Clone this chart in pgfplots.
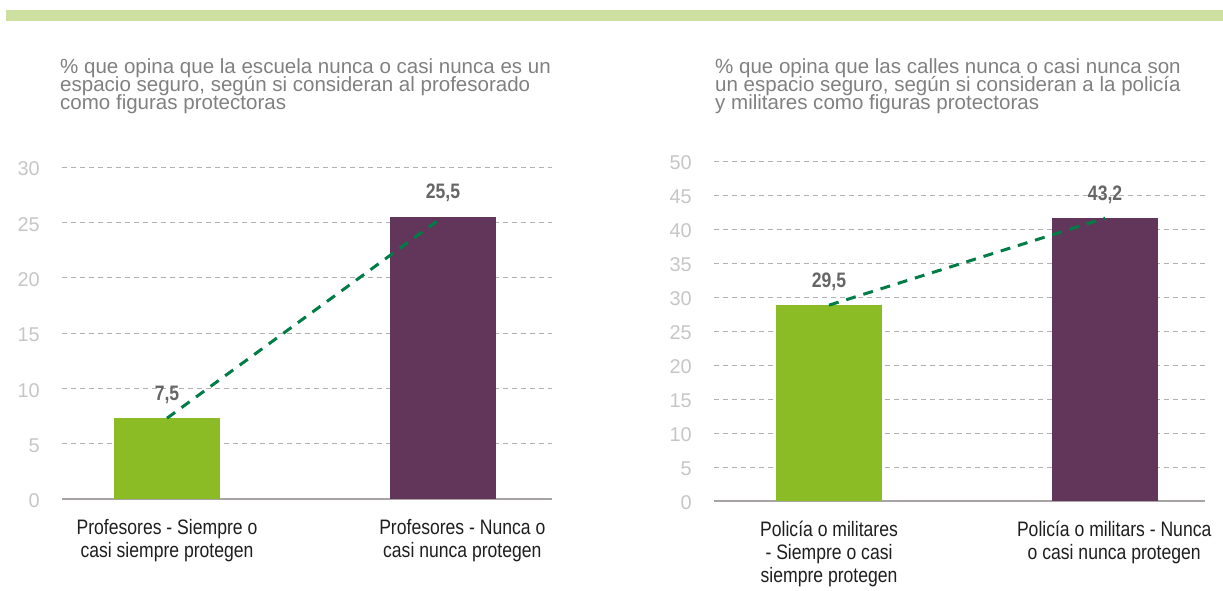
\documentclass[border=0pt]{standalone}
\usepackage{fontspec}
\setmainfont{Liberation Sans}
\newfontfamily\narrowfont[FakeStretch=0.84]{Liberation Sans}
\newfontfamily\narrowbold[FakeStretch=0.84]{Liberation Sans Bold}
\usepackage{pgfplots}
\pgfplotsset{compat=1.18}
\newcommand\titlefont{\fontsize{20.6}{18.3}\selectfont\lineskiplimit=-20pt\relax}
\definecolor{barGreen}{HTML}{8BBC26}
\definecolor{barPurple}{HTML}{62355A}
\definecolor{lineGreen}{HTML}{007C46}
\definecolor{topBand}{HTML}{CEE0A0}
\definecolor{tickGray}{HTML}{C6C6C6}
\definecolor{gridGray}{HTML}{B4B0B0}
\definecolor{axisGray}{HTML}{A8A4A4}
\definecolor{titleGray}{HTML}{808080}
\definecolor{labelGray}{HTML}{666666}
\definecolor{catBlack}{HTML}{1E1E1E}
\pgfplotsset{
  mychart/.style={
    scale only axis,
    anchor=south west,
    ymin=0,
    separate axis lines,
    axis x line*=bottom,
    axis y line*=left,
    y axis line style={draw=none},
    x axis line style={-, axisGray, line width=1.5bp},
    major tick length=0pt,
    ymajorgrids,
    grid style={gridGray, dash pattern=on 5bp off 4bp, line width=1bp},
    /pgf/number format/assume math mode=true,
    yticklabel style={font=\fontsize{20}{20}\selectfont, text=tickGray, anchor=east, inner sep=0pt, xshift=-22bp, yshift=-2bp},
    xticklabel style={font=\narrowfont\fontsize{21}{23}\selectfont, text=catBlack, align=center, anchor=north, inner sep=0pt, yshift=-20bp},
    clip=false,
  },
  mybar/.style={ybar, bar width=106bp, bar shift=0pt, draw=none, fill=#1,
    every node near coord/.append style={font=\narrowbold\fontsize{21}{21}\selectfont, text=labelGray, anchor=base, inner sep=0pt, yshift=18bp}},
  myline/.style={sharp plot, no markers, lineGreen, line width=3bp, dash pattern=on 10bp off 8bp},
}
\begin{document}
\begin{tikzpicture}
\path[use as bounding box] (0bp,0bp) rectangle (1223bp,-591bp);
\fill[topBand] (6bp,-10bp) rectangle (1223bp,-21bp);
\node[anchor=north west, align=left, inner sep=0pt, text=titleGray, font=\titlefont] at (60bp,-58bp)
  {\% que opina que la escuela nunca o casi nunca es un\\espacio seguro, según si consideran al profesorado\\como figuras protectoras};
\node[anchor=north west, align=left, inner sep=0pt, text=titleGray, font=\titlefont] at (715bp,-58bp)
  {\% que opina que las calles nunca o casi nunca son\\un espacio seguro, según si consideran a la policía\\y militares como figuras protectoras};

\begin{axis}[mychart, at={(62bp,-499bp)}, width=490bp, height=332bp,
  xmin=-0.3804, xmax=1.395, ymax=30, ytick={0,5,...,30},
  xtick={0,1.07},
  xticklabels={{Profesores - Siempre o\\casi siempre protegen},{Profesores - Nunca o\\casi nunca protegen}}]
\addplot[mybar=barGreen, nodes near coords={7,5}] coordinates {(0,7.3)};
\addplot[mybar=barPurple, nodes near coords={25,5}] coordinates {(1,25.5)};
\addplot[myline] coordinates {(0,7.3) (1,25.5)};
\end{axis}

\begin{axis}[mychart, at={(714bp,-501bp)}, width=491bp, height=340bp,
  xmin=-0.4167, xmax=1.362, ymax=50, ytick={0,5,...,50},
  xtick={0,1.033},
  xticklabels={{Policía o militares\\- Siempre o casi\\siempre protegen},{Policía o militars - Nunca\\o casi nunca protegen}}]
\addplot[mybar=barGreen, nodes near coords={29,5}] coordinates {(0,28.8)};
\addplot[mybar=barPurple, nodes near coords={43,2}] coordinates {(1,41.6)};
\addplot[myline] coordinates {(0,28.8) (1,41.6)};
\end{axis}
\end{tikzpicture}
\end{document}
